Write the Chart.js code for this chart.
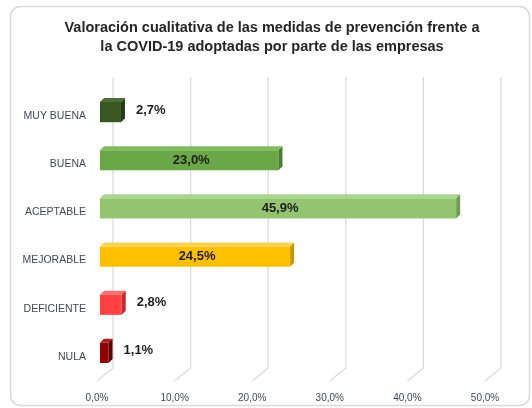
<!DOCTYPE html>
<html>
<head>
<meta charset="utf-8">
<script src="https://cdn.jsdelivr.net/npm/chart.js@4.4.1/dist/chart.umd.min.js"></script>
<style>
  html, body { margin: 0; padding: 0; background: #ffffff; }
  #wrap { width: 532px; height: 408px; position: relative; }
</style>
</head>
<body>
<div id="wrap"><canvas id="c" width="532" height="408"></canvas></div>
<script>
// ---- data ----
const categories = ['MUY BUENA', 'BUENA', 'ACEPTABLE', 'MEJORABLE', 'DEFICIENTE', 'NULA'];
const values = [2.7, 23.0, 45.9, 24.5, 2.8, 1.1];
const tickValues = [0, 10, 20, 30, 40, 50];
const titleLines = ['Valoración cualitativa de las medidas de prevención frente a', 'la COVID-19 adoptadas por parte de las empresas'];

// ---- styles ----
const frontColors = ['#385723', '#6aa746', '#93c571', '#ffc000', '#ff4141', '#930000'];
const topColors   = ['#4b6f34', '#82bb60', '#aad58e', '#ffd34f', '#ff7070', '#b01a1a'];
const sideColors  = ['#253c16', '#4b7d2e', '#6f9e52', '#c89600', '#c42c2c', '#600000'];

const fmt = v => v.toFixed(1).replace('.', ',') + '%';
const FONT = '"Liberation Sans", Arial, sans-serif';

const frame = {
  id: 'frame',
  beforeDraw(chart) {
    const ctx = chart.ctx;
    ctx.save();
    ctx.fillStyle = '#ffffff';
    ctx.fillRect(0, 0, chart.width, chart.height);
    ctx.strokeStyle = '#d9d9d9';
    ctx.lineWidth = 1.5;
    ctx.beginPath();
    ctx.roundRect(10.5, 6.5, 519, 399, 10);
    ctx.stroke();
    // title
    ctx.fillStyle = '#262626';
    ctx.font = 'bold 14.5px ' + FONT;
    ctx.textAlign = 'center';
    ctx.textBaseline = 'middle';
    ctx.fillText(titleLines[0], 272, 28);
    ctx.fillText(titleLines[1], 272, 47);
    ctx.restore();
  }
};

const grid3d = {
  id: 'grid3d',
  beforeDatasetsDraw(chart) {
    const ctx = chart.ctx, xs = chart.scales.x, a = chart.chartArea;
    ctx.save();
    ctx.strokeStyle = '#d9d9d9';
    ctx.lineWidth = 1.2;
    tickValues.forEach(v => {
      const p = xs.getPixelForValue(v);
      ctx.beginPath();
      ctx.moveTo(p + 13, a.top - 11);
      ctx.lineTo(p + 13, a.bottom - 9);
      ctx.lineTo(p - 3, a.bottom + 4);
      ctx.stroke();
    });
    ctx.restore();
  }
};

const bars3d = {
  id: 'bars3d',
  afterDatasetsDraw(chart) {
    const ctx = chart.ctx;
    const meta = chart.getDatasetMeta(0);
    const d = 4;
    ctx.save();
    meta.data.forEach((bar, i) => {
      const x0 = bar.base, x1 = bar.x, yT = bar.y - bar.height / 2, yB = bar.y + bar.height / 2;
      ctx.fillStyle = topColors[i];
      ctx.beginPath();
      ctx.moveTo(x0, yT); ctx.lineTo(x0 + d, yT - d); ctx.lineTo(x1 + d, yT - d); ctx.lineTo(x1, yT);
      ctx.closePath(); ctx.fill();
      ctx.fillStyle = sideColors[i];
      ctx.beginPath();
      ctx.moveTo(x1, yT); ctx.lineTo(x1 + d, yT - d); ctx.lineTo(x1 + d, yB - d); ctx.lineTo(x1, yB);
      ctx.closePath(); ctx.fill();
    });
    ctx.font = 'bold 13px ' + FONT;
    ctx.fillStyle = '#1e1e1e';
    ctx.textBaseline = 'middle';
    meta.data.forEach((bar, i) => {
      const v = values[i];
      if (v < 10) {
        ctx.textAlign = 'left';
        ctx.fillText(fmt(v), bar.x + 15, bar.y - 2);
      } else {
        ctx.textAlign = 'center';
        ctx.fillText(fmt(v), (bar.base + bar.x) / 2 + 2, bar.y);
      }
    });
    ctx.restore();
  }
};

new Chart(document.getElementById('c'), {
  type: 'bar',
  data: {
    labels: categories,
    datasets: [{
      data: values,
      backgroundColor: frontColors,
      borderWidth: 0,
      barPercentage: 0.42,
      categoryPercentage: 1
    }]
  },
  options: {
    indexAxis: 'y',
    responsive: false,
    animation: false,
    layout: { padding: { left: 10, right: 44, top: 88, bottom: 0 } },
    plugins: {
      legend: { display: false },
      tooltip: { enabled: false },
      title: { display: false }
    },
    scales: {
      x: {
        min: 0, max: 50,
        afterBuildTicks(s) { s.ticks = tickValues.map(v => ({ value: v })); },
        afterFit(s) { s.height = 31; },
        grid: { display: false, drawTicks: false },
        border: { display: false },
        ticks: {
          callback: v => fmt(v),
          color: '#44485a',
          font: { family: FONT, size: 10 },
          padding: 15,
          labelOffset: -3,
          maxRotation: 0
        }
      },
      y: {
        afterFit(s) { s.width = 90; },
        grid: { display: false, drawTicks: false },
        border: { display: false },
        ticks: {
          color: '#44485a',
          font: { family: FONT, size: 10.5 },
          padding: 14,
          labelOffset: 4
        }
      }
    }
  },
  plugins: [frame, grid3d, bars3d]
});
</script>
</body>
</html>
